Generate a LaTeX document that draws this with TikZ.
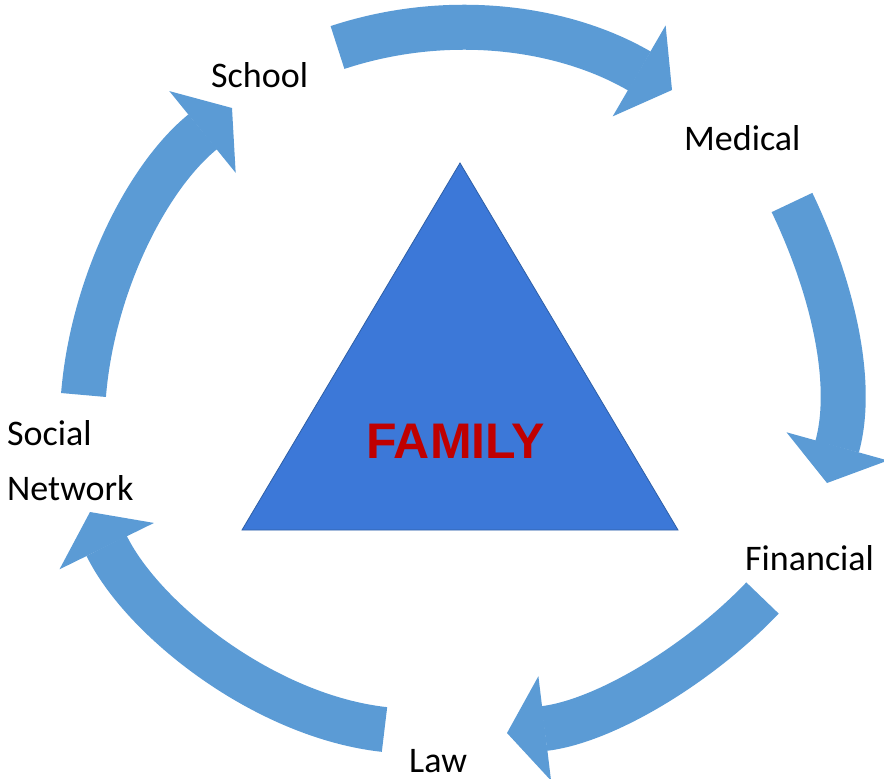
\documentclass[tikz,border=0pt]{standalone}
\usepackage{fontspec}
\setmainfont{Carlito}
\newfontfamily\famfont{Liberation Sans}
\usetikzlibrary{arrows.meta}

\definecolor{arrowblue}{HTML}{5B9BD5}
\definecolor{triblue}{HTML}{3C78D8}
\definecolor{triedge}{HTML}{2E5FA6}
\definecolor{famred}{HTML}{C00000}

\tikzset{
  cyclearrow/.style = {arrowblue, line width = 45pt, -{Triangle[width = 105pt, length = 38pt, line width = 1.5pt]}},
  place/.style = {anchor = base west, inner sep = 0pt, font = \fontsize{36}{43}\selectfont}
}

\begin{document}
\begin{tikzpicture}[x = 1pt, y = -1pt]
\useasboundingbox (0, 0) rectangle (884, 779);

\coordinate (apex) at (460, 163);
\coordinate (baseL) at (242, 530);
\coordinate (baseR) at (678, 530);

\filldraw[fill = triblue, draw = triedge, line width = 0.8pt] (baseL) -- (apex) -- (baseR) -- cycle;

\node (family) at (455.5, 458) [anchor = base, inner sep = 0pt, famred, font = \famfont\bfseries\fontsize{50}{60}\selectfont] {FAMILY};

% the five arrows, tail to tip
\coordinate (s1) at (337.5, 47.5);
\coordinate (t1) at (672, 90);
\coordinate (s2) at (792, 202.5);
\coordinate (t2) at (827, 483);
\coordinate (s3) at (762.5, 598);
\coordinate (t3) at (507, 733);
\coordinate (s4) at (384.5, 729.5);
\coordinate (t4) at (90, 512);
\coordinate (s5) at (83.5, 395);
\coordinate (t5) at (232, 108);

\draw[cyclearrow] (s1) .. controls +(109, -36) and +(-110, -64) .. (t1);

\draw[cyclearrow] (s2) .. controls +(43, 90) and +(27, -97) .. (t2);

\draw[cyclearrow] (s3) .. controls +(-62, 65) and +(99, -12) .. (t3);

\draw[cyclearrow] (s4) .. controls +(-119, -13) and +(53, 108) .. (t4);

\draw[cyclearrow] (s5) .. controls +(9, -110) and +(-85, 69) .. (t5);

\node (school) at (211, 87) [place] {School};
\node (medical) at (684, 150) [place] {Medical};
\node (financial) at (745, 570) [place] {Financial};
\node (law) at (409, 772) [place] {Law};
\node (social) at (7, 445) [place] {Social};
\node (network) at (7, 500) [place] {Network};

\end{tikzpicture}
\end{document}
